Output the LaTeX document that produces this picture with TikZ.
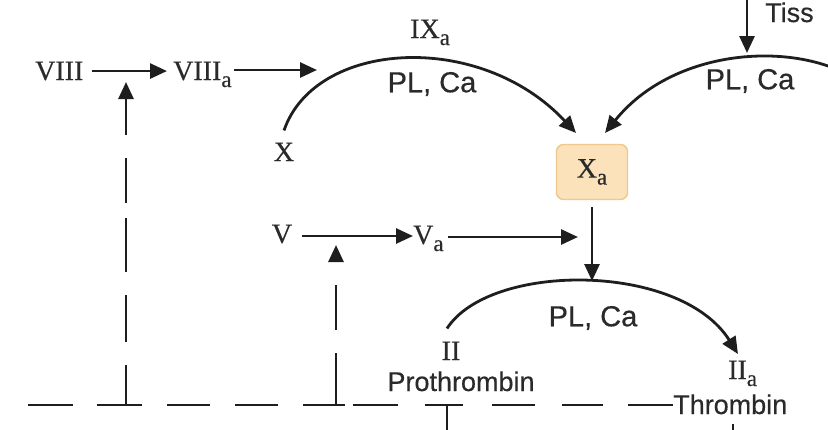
\documentclass[tikz,border=0pt]{standalone}
\usepackage{fontspec}
\setmainfont{Liberation Serif}[FakeBold=0.4]
\setsansfont{Liberation Sans}[FakeBold=0.4]
\usetikzlibrary{arrows.meta}
\definecolor{ink}{HTML}{1E1E1E}
\definecolor{txt}{HTML}{2A2A2A}
\definecolor{boxfill}{HTML}{FBE2BB}
\definecolor{boxline}{HTML}{F0C78C}
\newcommand\suba{\raisebox{-7pt}{\fontsize{23}{23}\selectfont a}}
\tikzset{
  ser/.style={font=\fontsize{28}{30}\selectfont\rmfamily, text=txt, inner sep=0pt},
  san/.style={font=\fontsize{27}{30}\selectfont\sffamily, text=txt, inner sep=0pt},
  plca/.style={font=\fontsize{29}{30}\selectfont\sffamily, text=txt, inner sep=0pt},
  conn/.style={draw=ink, line width=2.8pt},
  arr/.style={conn, -{Triangle[length=17pt,width=15pt]}},
  xabox/.style={ser, draw=boxline, fill=boxfill, line width=1.4pt, rounded corners=7pt,
    minimum width=71pt, minimum height=55pt},
}
\begin{document}
\begin{tikzpicture}[x=1pt,y=-1pt]
\useasboundingbox (0,0) rectangle (828,429);
\clip (0,0) rectangle (828,429);
% nodes
\node[ser, anchor=base west] (viii) at (35,80) {VIII};
\node[ser, anchor=base west] (viiia) at (173,80) {VIII\suba};
\node[ser, anchor=base west] (ixa) at (410,38) {IX\suba};
\node[plca] (pl1) at (432,84) {PL, Ca};
\node[ser, anchor=base] (x) at (284,161) {X};
\node[xabox] (xa) at (592,172) {X\suba};
\node[plca] (pl2) at (750,81) {PL, Ca};
\node[san, anchor=base west] (tiss) at (765,22) {Tiss};
\node[ser, anchor=base] (v) at (282,243) {V};
\node[ser, anchor=base west] (va) at (413,244) {V\suba};
\node[ser, anchor=base] (ii) at (451,360) {II};
\node[san, anchor=base] (proth) at (461,391) {Prothrombin};
\node[plca] (pl3) at (593,318) {PL, Ca};
\node[ser, anchor=base west] (iia) at (728,379) {II\suba};
\node[san, anchor=base west] (thromb) at (673,414) {Thrombin};
% free ends
\coordinate (c1) at (317,70);
\coordinate (c2) at (578,237);
\coordinate (e1) at (576,133);
\coordinate (e2) at (605,133);
\coordinate (t0) at (747,-10);
\coordinate (t1) at (747,53);
\coordinate (rr) at (872,92);
\coordinate (p3) at (592,281);
\coordinate (e3) at (738,354);
\coordinate (d0) at (28,405);
\coordinate (d1) at (126,405);
\coordinate (d2) at (336,405);
\coordinate (d3) at (447,405);
\coordinate (a1) at (126,82);
\coordinate (a2) at (336,245);
\coordinate (b3) at (447,440);
\coordinate (m0) at (733,424);
\coordinate (m1) at (733,440);
% top row
\draw[arr, shorten <=8pt, shorten >=6pt] (viii.east) -- (viiia.west |- viii.east);
\draw[arr, shorten <=2pt] (viiia.east |- c1) -- (c1);
\draw[arr] ([yshift=12pt]x.north) .. controls (315,40) and (480,30) .. (e1);
\draw[arr] (t0) -- (t1);
\draw[arr] (rr) .. controls (820,40) and (680,40) .. (e2);
% middle
\draw[arr, shorten <=10pt] (v.east |- 0,236) -- (va.west |- 0,236);
\draw[arr, shorten <=4pt] (va.east |- c2) -- (c2);
\draw[arr, shorten <=7pt] (xa.south) -- (p3);
\draw[arr] ([xshift=-4pt,yshift=13pt]ii.north) .. controls (490,262) and (680,262) .. (e3);
% dashed feedback
\draw[conn, dash pattern=on 45pt off 24pt on 45pt off 25pt on 43pt off 25pt on 43pt off 25pt on 42pt off 8pt on 45pt off 27pt on 38pt off 29pt on 43pt off 27pt on 41pt off 25pt on 60pt]
  (d0) -- (thromb.west |- d0);
\draw[arr, dash pattern=on 40pt off 23pt on 47pt off 23pt on 54pt off 15pt on 45pt off 23pt on 80pt] (d1) -- (a1);
\draw[arr, dash pattern=on 52pt off 23pt on 45pt off 23pt on 40pt] (d2) -- (a2);
\draw[conn] (d3) -- (b3);
\draw[conn, line width=1.6pt] (m0) -- (m1);
\end{tikzpicture}
\end{document}
